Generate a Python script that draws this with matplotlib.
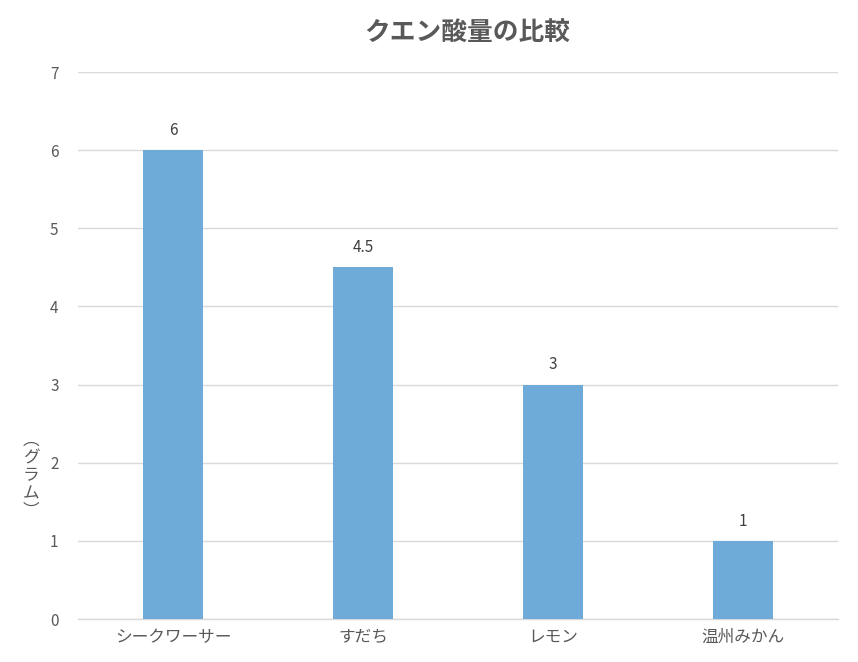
import matplotlib
matplotlib.use("Agg")
import matplotlib.pyplot as plt

plt.rcParams['font.family'] = ['Noto Sans CJK JP', 'DejaVu Sans']

categories = ["シークワーサー", "すだち", "レモン", "温州みかん"]
values = [6, 4.5, 3, 1]
value_labels = ["6", "4.5", "3", "1"]
yticks = [0, 1, 2, 3, 4, 5, 6, 7]
title = "クエン酸量の比較"
ylabel_chars = ["︵", "グ", "ラ", "ム", "︶"]

fig = plt.figure(figsize=(8.58, 6.62), dpi=100)
ax = fig.add_axes([78/858, 43/662, 760/858, 547/662])

x = list(range(len(categories)))
ax.bar(x, values, width=0.316, color="#6fabd9", zorder=3)
for xi, v, lab in zip(x, values, value_labels):
    ax.annotate(lab, (xi, v), xytext=(0, 8), textcoords="offset points",
                ha="center", va="bottom", fontsize=11, color="#404040")

ax.set_xlim(-0.5, len(categories) - 0.5)
ax.set_ylim(0, 7)
ax.set_yticks(yticks)
ax.set_yticklabels([str(t) for t in yticks])
ax.set_xticks(x)
ax.set_xticklabels(categories)
ax.tick_params(axis="both", length=0, colors="#595959")
ax.tick_params(axis="y", pad=14, labelsize=11)
ax.tick_params(axis="x", pad=7, labelsize=12)
ax.grid(axis="y", color="#d9d9d9", linewidth=1, zorder=0)
for s in ["top", "right", "left"]:
    ax.spines[s].set_visible(False)
ax.spines["bottom"].set_color("#d9d9d9")
ax.spines["bottom"].set_linewidth(1)

fig.text(467/858, 1 - 32/662, title, ha="center", va="center",
         fontsize=18.5, fontweight="bold", color="#595959")
fig.text(31/858, 1 - 476/662, "\n".join(ylabel_chars), ha="center", va="center",
         fontsize=12, color="#595959", linespacing=1.05)

fig.savefig("out.png", dpi=100, facecolor="white")
